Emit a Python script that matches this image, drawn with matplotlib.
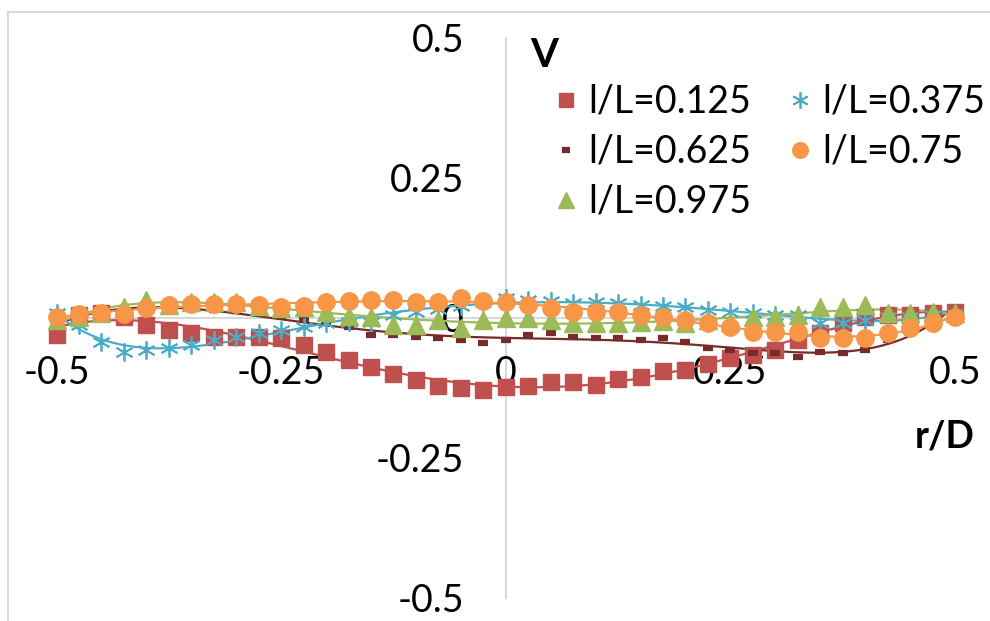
import numpy as np
import matplotlib
matplotlib.use('Agg')
import matplotlib.pyplot as plt
from matplotlib.lines import Line2D

plt.rcParams['font.family'] = ['Lato', 'DejaVu Sans']

# r/D positions, 41 stations
r_D = np.linspace(-0.5, 0.5, 41)

# V profiles
v_0125 = [-0.030, 0.005, 0.009, 0.002, -0.013, -0.021, -0.027, -0.034, -0.034, -0.034,
          -0.036, -0.048, -0.061, -0.075, -0.088, -0.100, -0.111, -0.121, -0.125, -0.129,
          -0.123, -0.121, -0.114, -0.114, -0.120, -0.109, -0.105, -0.095, -0.093, -0.082,
          -0.071, -0.066, -0.057, -0.039, -0.027, -0.009, 0.002, 0.005, 0.005, 0.009, 0.011]
v_0375 = [0.009, -0.013, -0.043, -0.061, -0.057, -0.054, -0.048, -0.039, -0.034, -0.027,
          -0.021, -0.016, -0.009, -0.007, -0.007, 0.005, 0.011, 0.016, 0.021, 0.029,
          0.036, 0.032, 0.030, 0.027, 0.029, 0.027, 0.023, 0.021, 0.020, 0.014,
          0.011, 0.009, 0.005, 0.005, -0.009, -0.009, -0.004, 0.002, 0.002, 0.005, 0.007]
v_0625 = [-0.007, 0.002, 0.009, 0.013, 0.014, 0.016, 0.016, 0.014, 0.013, 0.009,
          0.004, -0.004, -0.009, -0.016, -0.030, -0.030, -0.034, -0.036, -0.039, -0.045,
          -0.039, -0.030, -0.027, -0.034, -0.036, -0.036, -0.039, -0.036, -0.043, -0.054,
          -0.057, -0.063, -0.063, -0.070, -0.061, -0.063, -0.057, -0.039, -0.021, -0.004, 0.011]
v_075 = [0.002, 0.007, 0.009, 0.007, 0.018, 0.023, 0.025, 0.025, 0.025, 0.023,
         0.020, 0.021, 0.029, 0.030, 0.032, 0.032, 0.029, 0.029, 0.036, 0.030,
         0.029, 0.023, 0.018, 0.011, 0.011, 0.011, 0.005, 0.002, -0.004, -0.009,
         -0.016, -0.025, -0.025, -0.025, -0.036, -0.036, -0.036, -0.027, -0.018, -0.009, 0.002]
v_0975 = [-0.004, 0.002, 0.009, 0.020, 0.032, 0.023, 0.029, 0.029, 0.029, 0.021,
          0.018, 0.020, 0.011, 0.004, 0.002, -0.013, -0.013, -0.004, -0.018, -0.004,
          0.000, 0.000, -0.004, -0.009, -0.009, -0.009, -0.007, -0.005, -0.009, -0.004,
          -0.007, 0.002, 0.002, 0.005, 0.020, 0.020, 0.023, 0.009, 0.009, 0.011, 0.009]

labels = ['l/L=0.125', 'l/L=0.375', 'l/L=0.625', 'l/L=0.75', 'l/L=0.975']
colors = ['#C0504D', '#4BACC6', '#772C2A', '#F79646', '#9BBB59']
series = [v_0125, v_0375, v_0625, v_075, v_0975]
ticks = [-0.5, -0.25, 0, 0.25, 0.5]
tick_labels = ['-0.5', '-0.25', '0', '0.25', '0.5']

fig = plt.figure(figsize=(9.9, 6.21), dpi=100)
ax = fig.add_axes([56.5 / 990, 23 / 621, 898.5 / 990, 560 / 621])

# chart frame
fig.add_artist(Line2D([8 / 990, 8 / 990], [0, 1 - 12 / 621], color='#D9D9D9', lw=1.5))
fig.add_artist(Line2D([8 / 990, 1], [1 - 12 / 621, 1 - 12 / 621], color='#D9D9D9', lw=1.5))

xs = np.linspace(-0.5, 0.5, 300)
handles = {}
marker_style = {
    'l/L=0.125': dict(marker='s', ms=11.5),
    'l/L=0.375': dict(marker=(6, 2, 0), ms=13, mew=1.3),
    'l/L=0.625': dict(marker='_', ms=7, mew=4.5),
    'l/L=0.75': dict(marker='o', ms=12.5),
    'l/L=0.975': dict(marker='^', ms=13),
}
order = [0, 2, 1, 4, 3]
for k in order:
    y = np.array(series[k])
    # polynomial trendline (order 6)
    coef = np.polyfit(r_D, y, 6)
    ax.plot(xs, np.polyval(coef, xs), color=colors[k], lw=1.6, zorder=3, clip_on=False)
    st = marker_style[labels[k]]
    h, = ax.plot(r_D, y, ls='none', color=colors[k], mec=colors[k], label=labels[k],
                 zorder=4, clip_on=False, **st)
    handles[labels[k]] = h

ax.set_xlim(-0.5, 0.5)
ax.set_ylim(-0.5, 0.5)
for s in ['top', 'right']:
    ax.spines[s].set_visible(False)
ax.spines['left'].set_position(('data', 0))
ax.spines['bottom'].set_position(('data', 0))
for s in ['left', 'bottom']:
    ax.spines[s].set_color('#D9D9D9')
    ax.spines[s].set_linewidth(1.5)
    ax.spines[s].set_zorder(1)
ax.set_xticks(ticks)
ax.set_xticklabels(tick_labels)
ax.set_yticks(ticks)
ax.set_yticklabels(tick_labels)
ax.tick_params(axis='both', length=0, labelsize=27, colors='black')
ax.tick_params(axis='x', pad=27)
ax.tick_params(axis='y', pad=30)
ax.patch.set_visible(False)

ax.text(0.027, 0.468, 'V', fontsize=29, fontweight='bold', ha='left', va='center')
ax.text(0.488, -0.2125, 'r/D', fontsize=27, fontweight='bold', ha='center', va='center')

leg_order = ['l/L=0.125', 'l/L=0.625', 'l/L=0.975', 'l/L=0.375', 'l/L=0.75']
ax.legend([handles[l] for l in leg_order], leg_order, ncol=2, frameon=False,
          fontsize=27, loc='upper left', bbox_to_anchor=(0.550, 0.918),
          handlelength=0.8, handletextpad=0.2, columnspacing=0.9,
          labelspacing=0.37, borderaxespad=0, borderpad=0, markerscale=0.9)

fig.savefig('out.png', dpi=100)
